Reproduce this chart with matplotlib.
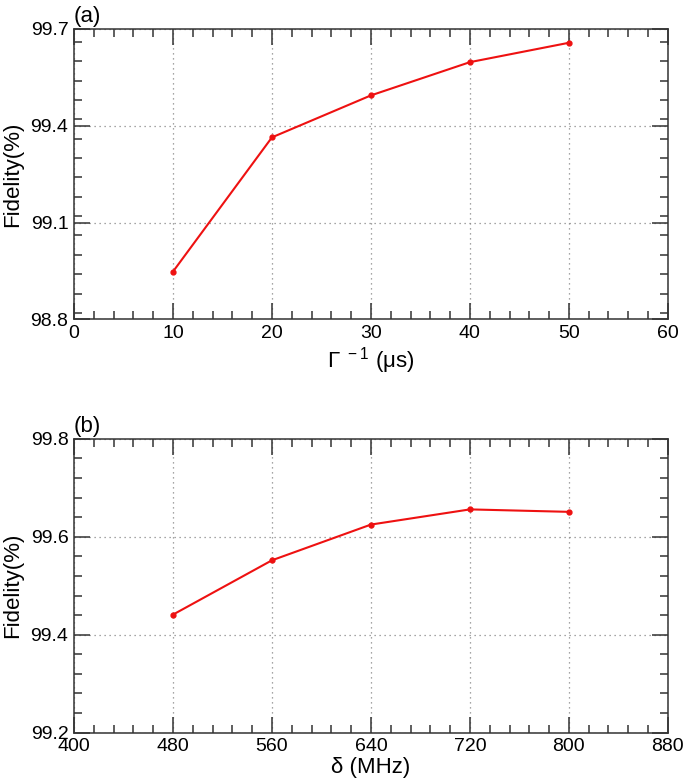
import matplotlib
matplotlib.use('Agg')
import matplotlib.pyplot as plt
from matplotlib.ticker import MultipleLocator

plt.rcParams['font.family'] = ['Liberation Sans', 'DejaVu Sans']
plt.rcParams['mathtext.fontset'] = 'custom'
plt.rcParams['mathtext.rm'] = 'Liberation Sans'

# panel (a): fidelity vs Gamma^-1
gamma_inv = [10, 20, 30, 40, 50]
fid_a = [98.948, 99.364, 99.494, 99.597, 99.657]

# panel (b): fidelity vs delta
delta = [480, 560, 640, 720, 800]
fid_b = [99.441, 99.552, 99.625, 99.656, 99.651]

fig = plt.figure(figsize=(6.85, 7.81), dpi=100)
ax1 = fig.add_axes([0.108, 0.591, 0.867, 0.372])
ax2 = fig.add_axes([0.108, 0.062, 0.867, 0.376])


def style(ax, xmaj, xmin, ymaj, ymin):
    ax.xaxis.set_major_locator(MultipleLocator(xmaj))
    ax.xaxis.set_minor_locator(MultipleLocator(xmin))
    ax.yaxis.set_major_locator(MultipleLocator(ymaj))
    ax.yaxis.set_minor_locator(MultipleLocator(ymin))
    ax.tick_params(which='both', direction='in', top=True, right=True,
                   color='#333333', labelsize=14, width=1.1)
    ax.tick_params(which='major', length=11.5, pad=4)
    ax.tick_params(which='minor', length=5.8)
    for s in ax.spines.values():
        s.set_color('#333333')
        s.set_linewidth(1.1)
    ax.grid(True, which='major', linestyle=(0, (1, 3)), color='#888888', linewidth=0.9)
    ax.set_axisbelow(True)


ax1.plot(gamma_inv, fid_a, color='#ee1111', linewidth=1.5, marker='o', markersize=3.5)
ax1.set_xlim(0, 60)
ax1.set_ylim(98.8, 99.7)
style(ax1, 10, 2, 0.3, 0.06)
ax1.set_yticks([98.8, 99.1, 99.4, 99.7])
ax1.set_yticklabels(['98.8', '99.1', '99.4', '99.7'])
ax1.set_xlabel(r'$\Gamma^{\ -1}$ (μs)', fontsize=16, labelpad=2)
ax1.set_ylabel('Fidelity(%)', fontsize=16, labelpad=5)
ax1.text(0.0, 1.008, '(a)', transform=ax1.transAxes, fontsize=16, ha='left', va='bottom')

ax2.plot(delta, fid_b, color='#ee1111', linewidth=1.5, marker='o', markersize=3.5)
ax2.set_xlim(400, 880)
ax2.set_ylim(99.2, 99.8)
style(ax2, 80, 16, 0.2, 0.04)
ax2.set_yticks([99.2, 99.4, 99.6, 99.8])
ax2.set_yticklabels(['99.2', '99.4', '99.6', '99.8'])
ax2.set_xlabel('δ (MHz)', fontsize=16, labelpad=1)
ax2.set_ylabel('Fidelity(%)', fontsize=16, labelpad=5)
ax2.text(0.0, 1.008, '(b)', transform=ax2.transAxes, fontsize=16, ha='left', va='bottom')

fig.savefig('out.png', dpi=100)
